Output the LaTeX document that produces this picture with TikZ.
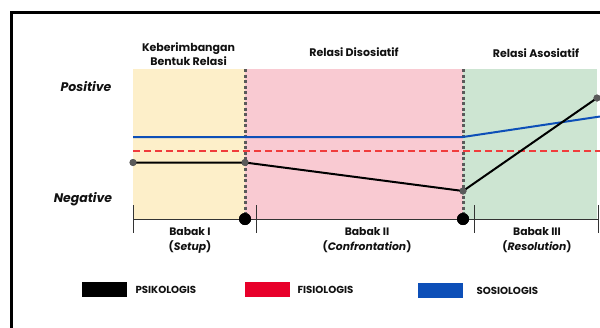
\documentclass[tikz,border=0pt]{standalone}
\usepackage{fontspec}
\setmainfont{Poppins}[BoldFont={Poppins Bold}, BoldItalicFont={Poppins Bold Italic}]
\definecolor{yel}{HTML}{FDEFC9}
\definecolor{pnk}{HTML}{F9CAD2}
\definecolor{grn}{HTML}{CDE5D2}
\definecolor{bluel}{HTML}{0D4FB8}
\definecolor{redl}{HTML}{F03C3C}
\definecolor{redbox}{HTML}{E8002A}
\definecolor{dotg}{HTML}{5A5A5A}
\definecolor{axisc}{HTML}{333333}
\definecolor{txt}{HTML}{111111}
\begin{document}
\begin{tikzpicture}[x=1pt,y=-1pt,
  ttl/.style={font=\bfseries\fontsize{11}{14}\selectfont, align=center, text=txt},
  lvl/.style={font=\bfseries\itshape\fontsize{12.5}{14}\selectfont, text=txt},
  bab/.style={font=\bfseries\fontsize{10.8}{15}\selectfont, align=center, text=txt},
  leg/.style={font=\bfseries\fontsize{10.2}{11}\selectfont, text=txt, anchor=west},
  gdot/.style={circle, fill=dotg, inner sep=0pt, minimum size=7pt},
  bdot/.style={circle, fill=black, inner sep=0pt, minimum size=12pt},
  sep/.style={dotg, line width=3pt, dash pattern=on 3pt off 2.5pt},
  tick/.style={axisc, line width=1pt}]
\useasboundingbox (0,0) rectangle (600,327);
\clip (0,0) rectangle (600,327);
% regions
\fill[yel] (133,69) rectangle (245,219);
\fill[pnk] (245,69) rectangle (463,219);
\fill[grn] (463,69) rectangle (597,219);
% frame
\draw[line width=3pt] (11,335) -- (11,12) -- (605,12);
% separators
\coordinate (s1t) at (245,69);
\coordinate (s2t) at (463,69);
\node[bdot] (d1) at (245,219) {};
\node[bdot] (d2) at (463,219) {};
\draw[sep] (s1t) -- (d1.center);
\draw[sep] (s2t) -- (d2.center);
% axis
\coordinate (a0) at (133,219);
\coordinate (a1) at (598,219);
\draw[tick] (a0) -- (a1);
\draw[tick] (133,205) -- (133,233);
\draw[tick] (256,205) -- (256,233);
\draw[tick] (474,205) -- (474,233);
\draw[tick] (598,205) -- (598,233);
\node[bdot] at (d1) {};
\node[bdot] at (d2) {};
% blue
\coordinate (b0) at (133,137);
\coordinate (b1) at (463,137);
\coordinate (b2) at (600,116.5);
\draw[bluel, line width=2pt] (b0) -- (b1) -- (b2);
% red dashed
\coordinate (r0) at (133,151);
\coordinate (r1) at (600,151);
\draw[redl, line width=2pt, dash pattern=on 7pt off 4pt] (r0) -- (r1);
% black
\node[gdot] (p1) at (133,162.5) {};
\node[gdot] (p2) at (245,162.5) {};
\node[gdot] (p3) at (463,191) {};
\node[gdot] (p4) at (597,98) {};
\draw[black, line width=2pt] (p1.center) -- (p2.center) -- (p3.center) -- (p4.center);
\node[gdot] at (p1) {};
\node[gdot] at (p2) {};
\node[gdot] at (p3) {};
\node[gdot] at (p4) {};
% titles
\node[ttl] (t1) at (188.5,54) {Keberimbangan\\Bentuk Relasi};
\node[ttl] (t2) at (354,52) {Relasi Disosiatif};
\node[ttl] (t3) at (536,53) {Relasi Asosiatif};
\node[lvl] (pos) at (86,87) {Positive};
\node[lvl] (neg) at (83,199) {Negative};
% babak
\node[bab] (ba1) at (190,240.5) {Babak I\\(\textit{Setup})};
\node[bab] (ba2) at (367,240.5) {Babak II\\(\textit{Confrontation})};
\node[bab] (ba3) at (537,240.5) {Babak III\\(\textit{Resolution})};
% legend
\fill[black] (82,282) rectangle (127,297);
\fill[redbox] (245,282) rectangle (290,297);
\fill[bluel] (418,283) rectangle (463,298);
\node[leg] (l1) at (132,289.5) {PSIKOLOGIS};
\node[leg] (l2) at (294,289.5) {FISIOLOGIS};
\node[leg] (l3) at (473,290.5) {SOSIOLOGIS};
\end{tikzpicture}
\end{document}
